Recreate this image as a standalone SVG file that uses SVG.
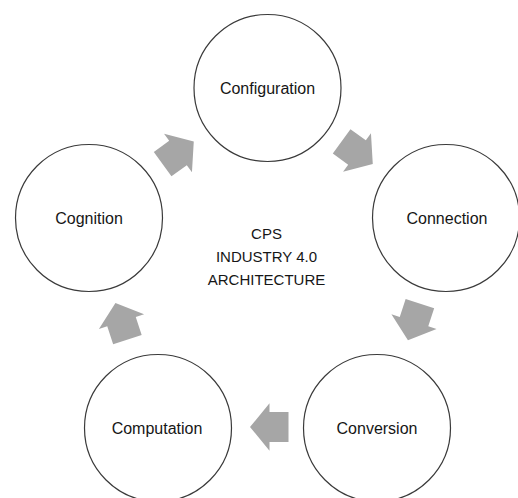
<svg xmlns="http://www.w3.org/2000/svg" xmlns:xlink="http://www.w3.org/1999/xlink" width="518" height="498" viewBox="0 0 518 498">
<style>
.node circle{fill:#ffffff;stroke:#3a3a3a;stroke-width:1.2}
.lbl{font-family:"Liberation Sans",Arial,sans-serif;font-size:16px;fill:#161616;text-anchor:middle}
.ctr{font-family:"Liberation Sans",Arial,sans-serif;font-size:15px;fill:#161616;text-anchor:middle}
.arr{fill:#a6a6a6}
</style>
<defs>
<path id="blk" class="arr" d="M-19,-15 L0,-15 L0,-23.75 L19.5,0 L0,23.75 L0,15 L-19,15 Z"/>
</defs>
<rect width="518" height="498" fill="#ffffff"/>
<g id="connectors">
<use xlink:href="#blk" transform="translate(178,153) rotate(-36)"/>
<use xlink:href="#blk" transform="translate(357,152.5) rotate(36)"/>
<use xlink:href="#blk" transform="translate(414,321.6) rotate(108.1)"/>
<use xlink:href="#blk" transform="translate(269.5,427) rotate(180)"/>
<use xlink:href="#blk" transform="translate(121.5,321.6) rotate(-108.1)"/>
</g>
<g id="configuration" class="node"><circle cx="267.5" cy="88" r="73.5"/><text class="lbl" x="267.5" y="94">Configuration</text></g>
<g id="connection" class="node"><circle cx="446" cy="218" r="73.5"/><text class="lbl" x="447" y="224">Connection</text></g>
<g id="conversion" class="node"><circle cx="377" cy="428" r="73.5"/><text class="lbl" x="377" y="434">Conversion</text></g>
<g id="computation" class="node"><circle cx="158" cy="428" r="73.5"/><text class="lbl" x="157" y="434">Computation</text></g>
<g id="cognition" class="node"><circle cx="89" cy="218" r="73.5"/><text class="lbl" x="89" y="224">Cognition</text></g>
<g id="center-label">
<text class="ctr" x="266.5" y="238.5">CPS</text>
<text class="ctr" x="266.5" y="261.5">INDUSTRY 4.0</text>
<text class="ctr" x="266.5" y="285">ARCHITECTURE</text>
</g>
</svg>
